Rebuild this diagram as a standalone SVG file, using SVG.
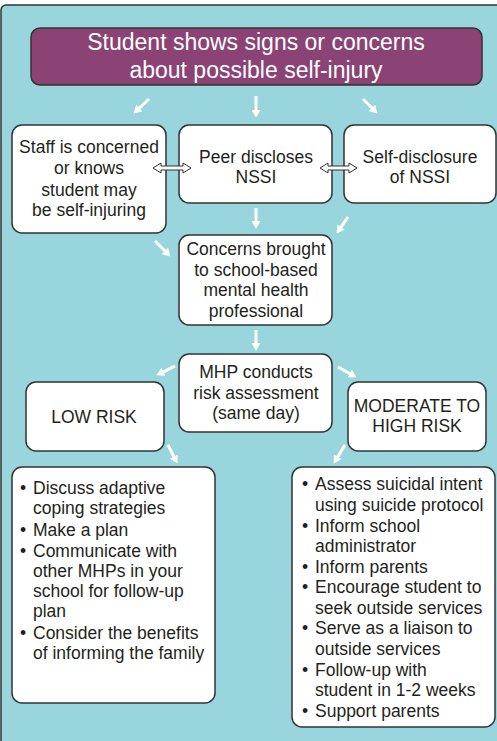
<svg xmlns="http://www.w3.org/2000/svg" width="497" height="741" viewBox="0 0 497 741">
  <defs>
    <style>
      .panel { fill: #98d5dc; stroke: #333333; stroke-width: 1.5; }
      .title { fill: #8b4275; stroke: #333333; stroke-width: 1.5; }
      .box { fill: #ffffff; stroke: #333333; stroke-width: 1.5; }
      .t { font-family: "Liberation Sans", Arial, sans-serif; font-size: 17.5px; fill: #231f20; }
      .c { text-anchor: middle; }
      .tt { font-family: "Liberation Sans", Arial, sans-serif; font-size: 23px; fill: #ffffff; text-anchor: middle; }
      .arrow { stroke: #ffffff; stroke-width: 3; fill: none; marker-end: url(#head); }
      .dbl { fill: #ffffff; stroke: #333333; stroke-width: 1; stroke-linejoin: miter; }
    </style>
    <marker id="head" viewBox="0 0 8 8" markerUnits="userSpaceOnUse" markerWidth="9" markerHeight="9" refX="2" refY="4" orient="auto">
      <path d="M0,0 L7,4 L0,8 Z" fill="#ffffff"/>
    </marker>
  </defs>

  <!-- background panel -->
  <rect class="panel" x="1" y="5" width="510" height="745" rx="5"/>

  <!-- start node -->
  <g id="start">
    <rect class="title" x="31" y="28" width="451" height="57" rx="9"/>
    <text class="tt" x="256" y="50">Student shows signs or concerns</text>
    <text class="tt" x="256" y="78">about possible self-injury</text>
  </g>

  <g id="staff">
    <rect class="box" x="12" y="125" width="154" height="108" rx="10"/>
    <text class="t c" x="89" y="153">Staff is concerned</text>
    <text class="t c" x="89" y="174">or knows</text>
    <text class="t c" x="89" y="196">student may</text>
    <text class="t c" x="89" y="216">be self-injuring</text>
  </g>

  <g id="peer">
    <rect class="box" x="179" y="125" width="153" height="78" rx="10"/>
    <text class="t c" x="256" y="163">Peer discloses</text>
    <text class="t c" x="256" y="183">NSSI</text>
  </g>

  <g id="self">
    <rect class="box" x="344" y="125" width="152" height="78" rx="10"/>
    <text class="t c" x="420" y="163">Self-disclosure</text>
    <text class="t c" x="420" y="183">of NSSI</text>
  </g>

  <g id="concerns">
    <rect class="box" x="179" y="235" width="153" height="90" rx="10"/>
    <text class="t c" x="256" y="255">Concerns brought</text>
    <text class="t c" x="256" y="276">to school-based</text>
    <text class="t c" x="256" y="296">mental health</text>
    <text class="t c" x="256" y="317">professional</text>
  </g>

  <g id="mhp">
    <rect class="box" x="179" y="354" width="153" height="78" rx="10"/>
    <text class="t c" x="256" y="378">MHP conducts</text>
    <text class="t c" x="256" y="399">risk assessment</text>
    <text class="t c" x="256" y="419">(same day)</text>
  </g>

  <g id="low">
    <rect class="box" x="26" y="382" width="138" height="69" rx="10"/>
    <text class="t c" x="94" y="423">LOW RISK</text>
  </g>

  <g id="high">
    <rect class="box" x="348" y="382" width="138" height="69" rx="10"/>
    <text class="t c" x="417" y="412">MODERATE TO</text>
    <text class="t c" x="417" y="432">HIGH RISK</text>
  </g>

  <g id="low-actions">
    <rect class="box" x="12" y="467" width="203" height="236" rx="10"/>
    <text class="t" x="20" y="494">•</text><text class="t" x="33" y="494">Discuss adaptive</text>
    <text class="t" x="33" y="514">coping strategies</text>
    <text class="t" x="20" y="536">•</text><text class="t" x="33" y="536">Make a plan</text>
    <text class="t" x="20" y="557">•</text><text class="t" x="33" y="557">Communicate with</text>
    <text class="t" x="33" y="577">other MHPs in your</text>
    <text class="t" x="33" y="597">school for follow-up</text>
    <text class="t" x="33" y="617">plan</text>
    <text class="t" x="20" y="639">•</text><text class="t" x="33" y="639">Consider the benefits</text>
    <text class="t" x="33" y="659">of informing the family</text>
  </g>

  <g id="high-actions">
    <rect class="box" x="292" y="467" width="203" height="260" rx="10"/>
    <text class="t" x="302" y="490">•</text><text class="t" x="315" y="490">Assess suicidal intent</text>
    <text class="t" x="315" y="511">using suicide protocol</text>
    <text class="t" x="302" y="532">•</text><text class="t" x="315" y="532">Inform school</text>
    <text class="t" x="315" y="552">administrator</text>
    <text class="t" x="302" y="573">•</text><text class="t" x="315" y="573">Inform parents</text>
    <text class="t" x="302" y="593">•</text><text class="t" x="315" y="593">Encourage student to</text>
    <text class="t" x="315" y="614">seek outside services</text>
    <text class="t" x="302" y="634">•</text><text class="t" x="315" y="634">Serve as a liaison to</text>
    <text class="t" x="315" y="655">outside services</text>
    <text class="t" x="302" y="676">•</text><text class="t" x="315" y="676">Follow-up with</text>
    <text class="t" x="315" y="696">student in 1-2 weeks</text>
    <text class="t" x="302" y="717">•</text><text class="t" x="315" y="717">Support parents</text>
  </g>

  <!-- connectors -->
  <g id="connectors">
    <line class="arrow" x1="149" y1="99" x2="137.7" y2="109.6"/>
    <line class="arrow" x1="256" y1="96" x2="256" y2="112"/>
    <line class="arrow" x1="363" y1="99" x2="373.5" y2="109.5"/>
    <line class="arrow" x1="256" y1="208" x2="256" y2="223"/>
    <line class="arrow" x1="348" y1="217" x2="339.8" y2="228.9"/>
    <line class="arrow" x1="155" y1="241" x2="166.5" y2="252.5"/>
    <line class="arrow" x1="256" y1="330" x2="256" y2="345"/>
    <line class="arrow" x1="175" y1="366" x2="161.5" y2="372.8"/>
    <line class="arrow" x1="338" y1="367" x2="351.6" y2="374.6"/>
    <line class="arrow" x1="168" y1="445" x2="174.8" y2="458.5"/>
    <line class="arrow" x1="345" y1="445" x2="336.6" y2="458.7"/>
    <!-- two-way links between the disclosure boxes -->
    <path class="dbl" d="M153,168 L161,163 L161,166 L183,166 L183,163 L191,168 L183,173 L183,170 L161,170 L161,173 Z"/>
    <path class="dbl" d="M320,168 L328,163 L328,166 L349,166 L349,163 L357,168 L349,173 L349,170 L328,170 L328,173 Z"/>
  </g>
</svg>
